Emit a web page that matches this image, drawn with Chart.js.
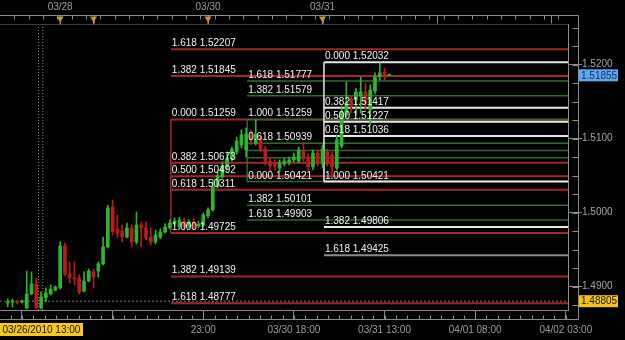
<!DOCTYPE html>
<html>
<head>
<meta charset="utf-8">
<script src="https://cdn.jsdelivr.net/npm/chart.js@4.4.1/dist/chart.umd.min.js"></script>
<style>
  html, body { margin: 0; padding: 0; background: #000; }
  #wrap { width: 625px; height: 340px; }
</style>
</head>
<body>
<div id="wrap"><canvas id="fxChart" width="625" height="340"></canvas></div>
<script>
// H1 candles, bar index = position in the arrays (0 = first visible bar)
const opens = [
  1.48781, 1.48794, 1.48808, 1.48794, 1.48713, 1.48903, 1.49038, 1.48713, 1.48849, 1.48903,
  1.48957, 1.48984, 1.49551, 1.49173, 1.49119, 1.49119, 1.48943, 1.49078, 1.49200, 1.49213,
  1.49308, 1.49537, 1.50077, 1.49780, 1.49753, 1.49672, 1.49794, 1.49605, 1.49834, 1.49794,
  1.49672, 1.49605, 1.49672, 1.49740, 1.49794, 1.49861, 1.49807, 1.49888, 1.49821, 1.49875,
  1.49821, 1.49834, 1.49956, 1.50037, 1.50361, 1.50482, 1.50617, 1.50725, 1.50820, 1.50914,
  1.50847, 1.51036, 1.50941, 1.51009, 1.50860, 1.50698, 1.50671, 1.50604, 1.50658, 1.50671,
  1.50712, 1.50698, 1.50833, 1.50752, 1.50617, 1.50806, 1.50671, 1.50820, 1.50779, 1.50604,
  1.50901, 1.51319, 1.51536, 1.51522, 1.51576, 1.51630, 1.51387, 1.51644, 1.51833, 1.51900,
  1.51851
];
const highs = [
  1.48835, 1.48835, 1.48821, 1.48821, 1.49213, 1.49200, 1.49119, 1.48930, 1.48984, 1.49024,
  1.49011, 1.49605, 1.49591, 1.49335, 1.49335, 1.49159, 1.49200, 1.49240, 1.49240, 1.49335,
  1.49672, 1.50104, 1.50172, 1.49969, 1.49834, 1.49861, 1.49834, 1.50010, 1.49875, 1.49875,
  1.49794, 1.49767, 1.49780, 1.49848, 1.49902, 1.49929, 1.49942, 1.49929, 1.49902, 1.49915,
  1.49888, 1.49996, 1.50064, 1.50442, 1.50550, 1.50685, 1.50820, 1.50887, 1.51022, 1.51117,
  1.51144, 1.51117, 1.51252, 1.51049, 1.50901, 1.50752, 1.50712, 1.50712, 1.50739, 1.50752,
  1.50806, 1.50887, 1.50955, 1.50793, 1.50847, 1.50847, 1.50914, 1.50860, 1.50820, 1.51049,
  1.51441, 1.51765, 1.51576, 1.51684, 1.51833, 1.51752, 1.51725, 1.51887, 1.52022, 1.51954,
  1.51873
];
const lows = [
  1.48727, 1.48727, 1.48767, 1.48781, 1.48700, 1.48889, 1.48700, 1.48700, 1.48794, 1.48889,
  1.48943, 1.48970, 1.49146, 1.49051, 1.49024, 1.48903, 1.48930, 1.49065, 1.48984, 1.49132,
  1.49294, 1.49524, 1.49699, 1.49659, 1.49605, 1.49659, 1.49537, 1.49578, 1.49537, 1.49632,
  1.49564, 1.49578, 1.49645, 1.49726, 1.49780, 1.49821, 1.49780, 1.49767, 1.49794, 1.49780,
  1.49794, 1.49807, 1.49929, 1.50023, 1.50334, 1.50469, 1.50577, 1.50698, 1.50793, 1.50874,
  1.50752, 1.50914, 1.50914, 1.50820, 1.50644, 1.50563, 1.50577, 1.50563, 1.50631, 1.50644,
  1.50685, 1.50671, 1.50698, 1.50563, 1.50577, 1.50631, 1.50604, 1.50631, 1.50482, 1.50577,
  1.50874, 1.51292, 1.51346, 1.51319, 1.51346, 1.51387, 1.51184, 1.51603, 1.51792, 1.51792,
  1.51846
];
const closes = [
  1.48794, 1.48808, 1.48794, 1.48808, 1.48903, 1.49038, 1.48713, 1.48862, 1.48916, 1.48970,
  1.48997, 1.49551, 1.49173, 1.49119, 1.49105, 1.48930, 1.49078, 1.49213, 1.49132, 1.49308,
  1.49537, 1.50064, 1.49740, 1.49726, 1.49672, 1.49794, 1.49605, 1.49834, 1.49794, 1.49659,
  1.49605, 1.49699, 1.49740, 1.49807, 1.49861, 1.49888, 1.49902, 1.49807, 1.49875, 1.49821,
  1.49848, 1.49969, 1.50037, 1.50347, 1.50496, 1.50631, 1.50739, 1.50860, 1.50968, 1.51049,
  1.51063, 1.50982, 1.51063, 1.50847, 1.50698, 1.50631, 1.50631, 1.50671, 1.50698, 1.50712,
  1.50752, 1.50847, 1.50752, 1.50617, 1.50806, 1.50671, 1.50860, 1.50658, 1.50617, 1.50982,
  1.51360, 1.51481, 1.51427, 1.51630, 1.51630, 1.51481, 1.51657, 1.51833, 1.51887, 1.51833,
  1.51855
];

// Fibonacci set A (red), starts at bar 34.2
const fibAStart = 34.2;
const fibARatios = ['1.618', '1.382', '0.000', '0.382', '0.500', '0.618', '1.000', '1.382', '1.618'];
const fibAPrices = [1.52207, 1.51845, 1.51259, 1.50673, 1.50492, 1.50311, 1.49725, 1.49139, 1.48777];
const fibABox = [1.51259, 1.49725];

// Fibonacci set B (green)
const fibBStart = 50.2;
const fibBRatios = ['1.618', '1.382', '1.000', '0.618', '0.500', '0.382', '0.000', '1.382', '1.618'];
const fibBPrices = [1.51777, 1.51579, 1.51259, 1.50939, 1.50840, 1.50741, 1.50421, 1.50101, 1.49903];
const fibBLabelled = [true, true, true, true, false, false, true, true, true];
const fibBBox = [1.51259, 1.50421];

// Fibonacci set C (white)
const fibCStart = 66.3;
const fibCRatios = ['0.000', '0.382', '0.500', '0.618', '1.000', '1.382', '1.618'];
const fibCPrices = [1.52032, 1.51417, 1.51227, 1.51036, 1.50421, 1.49806, 1.49425];
const fibCBox = [1.52032, 1.50421];

// axes
const xMin = -1.61, xMax = 117.46;
const yMin = 1.48686, yMax = 1.52548;
const bottomTickIdx = [3, 22, 41, 60, 79, 98, 117];
const bottomTickLabels = ['', '', '23:00', '03/30 18:00', '03/31 13:00', '04/01 08:00', '04/02 03:00'];
const dayStartIdx = [11, 18, 42, 66, 90, 114];
const dayLabelIdx = [11, 42, 66];
const dayLabels = ['03/28', '03/30', '03/31'];
const eventIdx = [11, 18, 42, 66];
const priceTicks = [1.4900, 1.5000, 1.5100, 1.5200];

// cursor / last price
const crossIdx = 7;
const crossLines = [6.45, 7.35];
const crossLabel = '03/26/2010 13:00';
const crossPrice = 1.48805;
const lastPrice = 1.51855;

const UP = '#2db52d', DOWN = '#b81c1c';
const candleColors = opens.map((o, i) => closes[i] >= o ? UP : DOWN);

function levelSets(start, prices, color, width, order) {
  return prices.map(p => ({
    type: 'line',
    data: [{ x: start, y: p }, { x: xMax, y: p }],
    borderColor: typeof color === 'function' ? color(p) : color,
    borderWidth: width,
    pointRadius: 0,
    tension: 0,
    fill: false,
    order: order
  }));
}

function boxEdge(start, box, color, width, order) {
  return {
    type: 'line',
    data: [{ x: start, y: box[0] }, { x: start, y: box[1] }],
    borderColor: color, borderWidth: width, pointRadius: 0, fill: false, order: order
  };
}

const datasets = [
  {
    type: 'bar',
    data: opens.map((o, i) => ({ x: i, y: [o, closes[i]] })),
    backgroundColor: candleColors,
    barThickness: 3,
    minBarLength: 1,
    grouped: false,
    order: 0
  },
  {
    type: 'bar',
    data: lows.map((l, i) => ({ x: i, y: [l, highs[i]] })),
    backgroundColor: candleColors,
    barThickness: 1,
    grouped: false,
    order: 1
  },
  {
    type: 'line',
    data: [{ x: xMin, y: crossPrice }, { x: xMax, y: crossPrice }],
    borderColor: '#7a7a7a', borderWidth: 1, borderDash: [2, 2], pointRadius: 0, order: 2
  },
  ...crossLines.map(cx => ({
    type: 'line',
    data: [{ x: cx, y: yMin }, { x: cx, y: yMax }],
    borderColor: '#8a8a8a', borderWidth: 1, borderDash: [1, 2], pointRadius: 0, order: 2
  })),
  ...levelSets(fibCStart, fibCPrices, p => p === 1.49425 ? '#8c8c8c' : '#e8e8e8', 2, 4),
  boxEdge(fibCStart, fibCBox, '#e8e8e8', 1.5, 4),
  ...levelSets(fibBStart, fibBPrices, '#2f6a2f', 1.5, 5),
  boxEdge(fibBStart, fibBBox, '#2f6a2f', 1.5, 5),
  ...levelSets(fibAStart, fibAPrices, '#a32626', 2, 6),
  boxEdge(fibAStart, fibABox, '#a32626', 1.5, 6)
];

const fxDecor = {
  id: 'fxDecor',
  beforeDraw(chart) {
    const ctx = chart.ctx;
    ctx.save();
    ctx.fillStyle = '#000';
    ctx.fillRect(0, 0, chart.width, chart.height);
    ctx.restore();
  },
  afterDatasetsDraw(chart) {
    // fib level labels, on top of the candles
    const ctx = chart.ctx, x = chart.scales.x, y = chart.scales.y;
    ctx.save();
    ctx.font = '10px "Liberation Sans", Arial, sans-serif';
    ctx.fillStyle = '#f0f0f0';
    ctx.textBaseline = 'alphabetic';
    const drawSet = (start, ratios, prices, shown) => {
      const px = x.getPixelForValue(start) + 1;
      ratios.forEach((r, k) => {
        if (shown && !shown[k]) return;
        ctx.fillText(r + ' ' + prices[k].toFixed(5), px, y.getPixelForValue(prices[k]) - 3);
      });
    };
    drawSet(fibAStart, fibARatios, fibAPrices);
    drawSet(fibBStart, fibBRatios, fibBPrices, fibBLabelled);
    drawSet(fibCStart, fibCRatios, fibCPrices);
    ctx.restore();
  },
  afterDraw(chart) {
    const ctx = chart.ctx, x = chart.scales.x, y = chart.scales.y, area = chart.chartArea;
    const spineX = Math.round(area.right) + 10.5;
    const rulerY = area.top - 8.5;
    const baseY = area.bottom + 9.5;
    ctx.save();
    ctx.lineWidth = 1;

    // plot top edge
    ctx.strokeStyle = '#3c3c3c';
    ctx.beginPath();
    ctx.moveTo(area.left, area.top + 0.5); ctx.lineTo(area.right, area.top + 0.5);
    ctx.stroke();

    ctx.strokeStyle = '#8c8c8c';
    ctx.beginPath();
    // top ruler, right spine, bottom base
    ctx.moveTo(0, rulerY); ctx.lineTo(spineX, rulerY); ctx.lineTo(spineX, baseY);
    ctx.moveTo(0, baseY); ctx.lineTo(spineX, baseY);
    // top ruler ticks
    for (let v = 1.4; v <= xMax; v += 3) {
      const px = Math.round(x.getPixelForValue(v)) + 0.5;
      ctx.moveTo(px, rulerY); ctx.lineTo(px, rulerY + 4);
    }
    dayStartIdx.forEach(v => {
      const px = Math.round(x.getPixelForValue(v)) + 0.5;
      ctx.moveTo(px, rulerY); ctx.lineTo(px, rulerY + 8);
    });
    // bottom minor ticks
    const step = 19 / 8;
    for (let v = bottomTickIdx[0] - step; v <= xMax; v += step) {
      const px = Math.round(x.getPixelForValue(v)) + 0.5;
      ctx.moveTo(px, baseY - 4); ctx.lineTo(px, baseY);
    }
    // right minor ticks
    for (let v = 1.4875; v < yMax; v += 0.0025) {
      const py = Math.round(y.getPixelForValue(v)) + 0.5;
      ctx.moveTo(spineX - 6, py); ctx.lineTo(spineX, py);
    }
    ctx.stroke();

    // event markers on the top ruler
    ctx.fillStyle = '#c9962e';
    eventIdx.forEach(v => {
      const px = x.getPixelForValue(v);
      ctx.beginPath();
      ctx.moveTo(px - 3.5, rulerY + 1); ctx.lineTo(px + 3.5, rulerY + 1); ctx.lineTo(px, rulerY + 7);
      ctx.closePath(); ctx.fill();
      ctx.fillRect(px - 0.5, rulerY + 6, 1, 3);
    });

    // price badges
    ctx.font = '10px "Liberation Sans", Arial, sans-serif';
    ctx.textBaseline = 'middle';
    const badge = (value, bg, fg) => {
      const py = y.getPixelForValue(value);
      ctx.fillStyle = bg;
      ctx.fillRect(spineX + 0.5, py - 6, 39, 12);
      ctx.fillStyle = fg;
      ctx.fillText(value.toFixed(5), spineX + 2.5, py + 0.5);
    };
    badge(lastPrice, '#5eaaf2', '#0b2a55');
    badge(crossPrice, '#f5c21a', '#222');

    // cursor time label
    const w = 83;
    const left = Math.max(0, x.getPixelForValue(crossIdx) - w / 2);
    ctx.fillStyle = '#f7c81e';
    ctx.fillRect(left, area.bottom + 13, w, 13);
    ctx.fillStyle = '#111';
    ctx.fillText(crossLabel, left + 2.5, area.bottom + 20);
    ctx.restore();
  }
};

Chart.defaults.font.family = '"Liberation Sans", Arial, sans-serif';
Chart.defaults.font.size = 10;
Chart.defaults.color = '#9c9c9c';

new Chart(document.getElementById('fxChart'), {
  type: 'bar',
  data: { datasets: datasets },
  options: {
    responsive: false,
    animation: false,
    devicePixelRatio: 1,
    events: [],
    layout: { padding: 0, autoPadding: false },
    plugins: { legend: { display: false }, tooltip: { enabled: false } },
    scales: {
      x: {
        type: 'linear', position: 'bottom', min: xMin, max: xMax, offset: false,
        grid: { drawOnChartArea: false, tickLength: 9, color: '#8c8c8c', offset: false },
        border: { display: true, color: '#8c8c8c' },
        ticks: {
          autoSkip: false, maxRotation: 0, minRotation: 0, padding: 5, color: '#9c9c9c',
          callback: (v, i) => bottomTickLabels[i]
        },
        afterBuildTicks: s => { s.ticks = bottomTickIdx.map(v => ({ value: v })); },
        afterFit: s => { s.height = 30; }
      },
      x2: {
        type: 'linear', position: 'top', min: xMin, max: xMax, offset: false,
        grid: { display: false, drawTicks: false },
        border: { display: false },
        ticks: {
          autoSkip: false, maxRotation: 0, minRotation: 0, padding: 11, color: '#9c9c9c',
          callback: (v, i) => dayLabels[i]
        },
        afterBuildTicks: s => { s.ticks = dayLabelIdx.map(v => ({ value: v })); },
        afterFit: s => { s.height = 24; }
      },
      y: {
        type: 'linear', position: 'right', min: yMin, max: yMax,
        grid: { drawOnChartArea: false, tickLength: 14, color: '#8c8c8c' },
        border: { display: true, color: '#8c8c8c' },
        ticks: {
          autoSkip: false, padding: 0, color: '#a4a4a4',
          callback: v => v.toFixed(4)
        },
        afterBuildTicks: s => { s.ticks = priceTicks.map(v => ({ value: v })); },
        afterFit: s => { s.width = 57; }
      }
    }
  },
  plugins: [fxDecor]
});
</script>
</body>
</html>
